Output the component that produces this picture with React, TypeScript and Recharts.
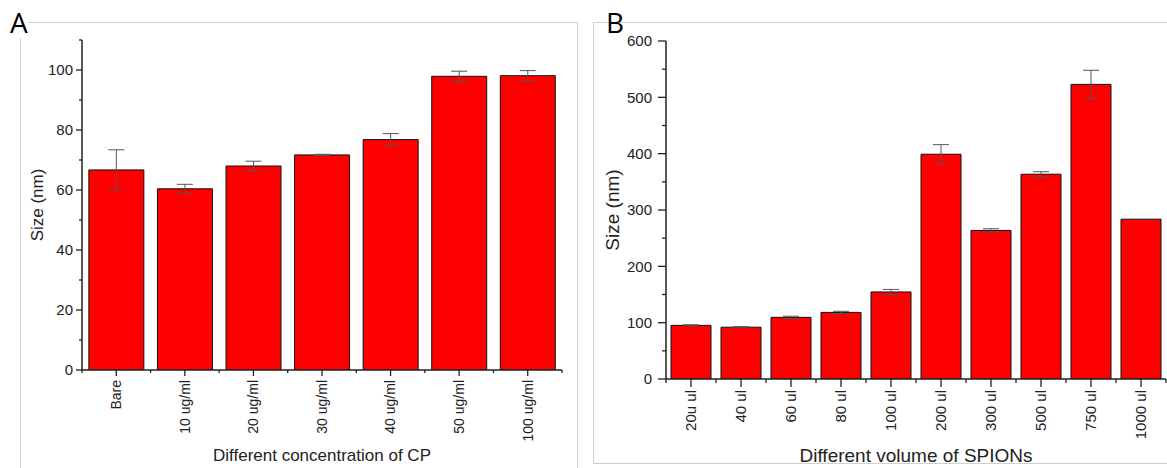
import { BarChart, Bar, XAxis, YAxis, ErrorBar } from "recharts";

// Panel A: size vs CP concentration
const cpCategories = ["Bare", "10 ug/ml", "20 ug/ml", "30 ug/ml", "40 ug/ml", "50 ug/ml", "100 ug/ml"];
const cpSize = [66.7, 60.4, 68.0, 71.7, 76.8, 97.9, 98.1];
const cpError = [6.7, 1.5, 1.6, 0.2, 2.0, 1.7, 1.7];
const cpTicks = [0, 10, 20, 30, 40, 50, 60, 70, 80, 90, 100, 110];
const cpLabels = [0, 20, 40, 60, 80, 100];

// Panel B: size vs SPION volume
const spionCategories = ["20u ul", "40 ul", "60 ul", "80 ul", "100 ul", "200 ul", "300 ul", "500 ul", "750 ul", "1000 ul"];
const spionSize = [95.2, 92.0, 109.4, 118.2, 154.5, 399.0, 263.7, 363.5, 523.0, 283.7];
const spionError = [1, 1, 2, 2, 4.5, 17, 3, 4.5, 25, 0];
const spionTicks = [0, 50, 100, 150, 200, 250, 300, 350, 400, 450, 500, 550, 600];
const spionLabels = [0, 100, 200, 300, 400, 500, 600];

const FONT = "'Liberation Sans', Arial, sans-serif";
const RED = "#fe0000";

type PanelProps = {
  categories: string[];
  values: number[];
  errors: number[];
  ticks: number[];
  labels: number[];
  domain: [number, number];
  left: number;
  top: number;
  width: number;
  height: number;
  yAxisWidth: number;
  marginTop: number;
  marginRight: number;
  xAxisHeight: number;
  majorTick: number;
  minorTick: number;
  yLabelGap: number;
  xLabelGap: number;
  xFont: number;
  titleFont: number;
  xTitle: string;
  xTitleOffset: number;
  yTitleOffset: number;
};

function Panel(p: PanelProps) {
  const data = p.categories.map((c, i) => ({ name: c, size: p.values[i], err: p.errors[i] }));
  const plotWidth = p.width - p.yAxisWidth - p.marginRight;
  const band = plotWidth / p.categories.length;

  const yTick = (props: any) => {
    const { x, y, payload } = props;
    const major = p.labels.includes(payload.value);
    return (
      <g>
        <line x1={x - (major ? p.majorTick : p.minorTick)} y1={y} x2={x} y2={y} stroke="#222" strokeWidth={1.3} />
        {major && (
          <text x={x - p.yLabelGap} y={y} dy="0.35em" textAnchor="end" fontSize={15} fill="#222" fontFamily={FONT}>
            {payload.value}
          </text>
        )}
      </g>
    );
  };

  const xTick = (props: any) => {
    const { x, y, payload, index } = props;
    const isLast = index === p.categories.length - 1;
    return (
      <g>
        <line x1={x} y1={y} x2={x} y2={y + p.majorTick} stroke="#222" strokeWidth={1.3} />
        <line x1={x - band / 2} y1={y} x2={x - band / 2} y2={y + p.minorTick} stroke="#222" strokeWidth={1.3} />
        {isLast && <line x1={x + band / 2} y1={y} x2={x + band / 2} y2={y + p.minorTick} stroke="#222" strokeWidth={1.3} />}
        <text
          x={x}
          y={y + p.xLabelGap}
          dy="0.35em"
          textAnchor="end"
          transform={`rotate(-90, ${x}, ${y + p.xLabelGap})`}
          fontSize={p.xFont}
          fill="#222"
          fontFamily={FONT}
        >
          {payload.value}
        </text>
      </g>
    );
  };

  return (
    <div style={{ position: "absolute", left: p.left, top: p.top, width: p.width, height: p.height }}>
      <BarChart
        width={p.width}
        height={p.height}
        data={data}
        barCategoryGap="10%"
        margin={{ top: p.marginTop, right: p.marginRight, left: 0, bottom: 0 }}
      >
        <XAxis
          dataKey="name"
          interval={0}
          tickLine={false}
          tickSize={0}
          tickMargin={0}
          height={p.xAxisHeight}
          axisLine={{ stroke: "#222", strokeWidth: 1.5 }}
          tick={xTick}
          label={{
            value: p.xTitle,
            position: "insideBottom",
            offset: p.xTitleOffset,
            style: { fontSize: p.titleFont, fill: "#222", fontFamily: FONT },
          }}
        />
        <YAxis
          type="number"
          domain={p.domain}
          ticks={p.ticks}
          interval={0}
          width={p.yAxisWidth}
          tickLine={false}
          tickSize={0}
          tickMargin={0}
          axisLine={{ stroke: "#222", strokeWidth: 1.5 }}
          tick={yTick}
          allowDataOverflow
          label={{
            value: "Size (nm)",
            angle: -90,
            position: "insideLeft",
            offset: p.yTitleOffset,
            style: { fontSize: p.titleFont, fill: "#222", fontFamily: FONT, textAnchor: "middle" },
          }}
        />
        <Bar dataKey="size" fill={RED} stroke="#111" strokeWidth={1} isAnimationActive={false}>
          <ErrorBar dataKey="err" width={8} stroke="#555" strokeWidth={1} />
        </Bar>
      </BarChart>
    </div>
  );
}

export default function App() {
  return (
    <div style={{ position: "absolute", left: 0, top: 0, width: 1167, height: 468, overflow: "hidden", background: "#fff" }}>
      <div style={{ position: "absolute", left: 20, top: 22, width: 556, height: 460, border: "1px solid #cfcfcf" }} />
      <div style={{ position: "absolute", left: 593, top: 22, width: 600, height: 440, border: "1px solid #cfcfcf" }} />
      <div style={{ position: "absolute", left: 10, top: 6, fontSize: 28, fontFamily: "'Open Sans', sans-serif", lineHeight: "32px", background: "#fff", color: "#000" }}>
        A
      </div>
      <div style={{ position: "absolute", left: 606, top: 6, fontSize: 28, fontFamily: "'Open Sans', sans-serif", lineHeight: "32px", color: "#000" }}>
        B
      </div>
      <Panel
        categories={cpCategories}
        values={cpSize}
        errors={cpError}
        ticks={cpTicks}
        labels={cpLabels}
        domain={[0, 110]}
        left={20}
        top={22}
        width={557}
        height={446}
        yAxisWidth={62}
        marginTop={18}
        marginRight={15}
        xAxisHeight={98}
        majorTick={6}
        minorTick={3}
        yLabelGap={9}
        xLabelGap={10}
        xFont={14}
        titleFont={17}
        xTitle="Different concentration of CP"
        xTitleOffset={7}
        yTitleOffset={17}
      />
      <Panel
        categories={spionCategories}
        values={spionSize}
        errors={spionError}
        ticks={spionTicks}
        labels={spionLabels}
        domain={[0, 600]}
        left={593}
        top={22}
        width={574}
        height={446}
        yAxisWidth={73}
        marginTop={19}
        marginRight={1}
        xAxisHeight={89}
        majorTick={8}
        minorTick={4}
        yLabelGap={14}
        xLabelGap={11}
        xFont={15}
        titleFont={19}
        xTitle="Different volume of SPIONs"
        xTitleOffset={6}
        yTitleOffset={19}
      />
    </div>
  );
}
